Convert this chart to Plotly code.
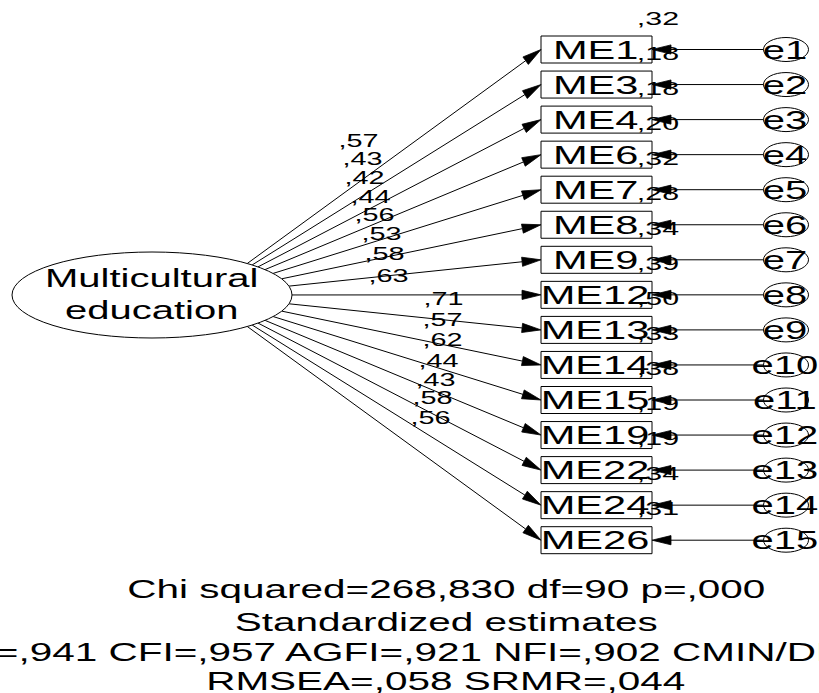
import math
import plotly.graph_objects as go

# ---- model content -------------------------------------------------------
latent_name = "Multicultural<br>education"
items = ["ME1", "ME3", "ME4", "ME6", "ME7", "ME8", "ME9", "ME12",
         "ME13", "ME14", "ME15", "ME19", "ME22", "ME24", "ME26"]
errors = ["e1", "e2", "e3", "e4", "e5", "e6", "e7", "e8",
          "e9", "e10", "e11", "e12", "e13", "e14", "e15"]
loadings = [0.57, 0.43, 0.42, 0.44, 0.56, 0.53, 0.58, 0.63,
            0.71, 0.57, 0.62, 0.44, 0.43, 0.58, 0.56]
r_squared = [0.32, 0.18, 0.18, 0.20, 0.32, 0.28, 0.34, 0.39,
             0.50, 0.33, 0.38, 0.19, 0.19, 0.34, 0.31]
fit_lines = [
    "Chi squared=268,830 df=90 p=,000",
    "Standardized estimates",
    "GFI=,941 CFI=,957 AGFI=,921 NFI=,902 CMIN/DF=2,987",
    "RMSEA=,058 SRMR=,044",
]

# ---- layout geometry (pixel units, y grows downward) ----------------------
W, H = 819, 693
ROW0, ROW_STEP = 49.5, 35.05
BOX_L, BOX_R, BOX_H = 541, 652, 27
BOX_CX = 596
ERR_CX, ERR_RX, ERR_RY = 786, 22.5, 12
LAT_CX, LAT_CY, LAT_RX, LAT_RY = 152, 295, 140, 43
FAN_X = 204          # paths fan out from this point on the latent's axis
R2_DX, R2_DY = 658, -29.5
loading_label_xy = [(358, 141), (362, 159), (364, 178), (370, 197), (374, 215),
                    (381, 234), (384, 254), (388, 276), (443, 299), (442, 320),
                    (442, 340), (438, 361), (435, 380), (432, 398), (430, 418)]
fit_line_y = [589, 622, 652, 681]
FIT_CX = 446
HEAD_LEN, HEAD_HALF = 19, 4.6
STRETCH = 1.6

FONT = "Liberation Sans, Arial, sans-serif"
rows = [ROW0 + ROW_STEP * i for i in range(len(items))]


def est(v):
    return "," + f"{v:.2f}".split(".")[1]


def edge_of_latent(tx, ty):
    """Point where the path from the fan point toward (tx, ty) leaves the ellipse."""
    dx, dy = tx - FAN_X, ty - LAT_CY
    ox = FAN_X - LAT_CX
    a = (dx / LAT_RX) ** 2 + (dy / LAT_RY) ** 2
    b = 2 * ox * dx / LAT_RX ** 2
    c = (ox / LAT_RX) ** 2 - 1
    t = (-b + math.sqrt(b * b - 4 * a * c)) / (2 * a)
    return FAN_X + t * dx, LAT_CY + t * dy


# collect every directed path as (start, end)
paths = []
for y in rows:
    paths.append((edge_of_latent(BOX_L, y), (BOX_L, y)))
for y in rows:
    paths.append(((ERR_CX - ERR_RX, y), (BOX_R, y)))

line_x, line_y, head_x, head_y = [], [], [], []
for (sx, sy), (ex, ey) in paths:
    length = math.hypot(ex - sx, ey - sy)
    ux, uy = (ex - sx) / length, (ey - sy) / length
    bx, by = ex - HEAD_LEN * ux, ey - HEAD_LEN * uy
    nx, ny = -uy, ux
    line_x += [sx, bx, None]
    line_y += [sy, by, None]
    head_x += [ex, bx + HEAD_HALF * nx, bx - HEAD_HALF * nx, ex, None]
    head_y += [ey, by + HEAD_HALF * ny, by - HEAD_HALF * ny, ey, None]

fig = go.Figure()
# squared multiple correlations sit at each box's upper-right corner,
# underneath the arrowheads
fig.add_trace(go.Scatter(x=[R2_DX] * len(rows), y=[y + R2_DY for y in rows],
                         mode="text", text=[est(v) for v in r_squared],
                         textposition="middle center",
                         textfont=dict(family=FONT, size=19, color="black"),
                         hoverinfo="skip"))
fig.add_trace(go.Scatter(x=line_x, y=line_y, mode="lines",
                         line=dict(color="black", width=1), hoverinfo="skip"))
fig.add_trace(go.Scatter(x=head_x, y=head_y, mode="lines", fill="toself",
                         fillcolor="black", line=dict(color="black", width=0.8),
                         hoverinfo="skip"))

shapes = [dict(type="circle", xref="x", yref="y",
               x0=LAT_CX - LAT_RX, x1=LAT_CX + LAT_RX,
               y0=LAT_CY - LAT_RY, y1=LAT_CY + LAT_RY,
               line=dict(color="black", width=1), fillcolor="white", layer="above")]
for y in rows:
    shapes.append(dict(type="rect", xref="x", yref="y",
                       x0=BOX_L, x1=BOX_R, y0=y - BOX_H / 2, y1=y + BOX_H / 2,
                       line=dict(color="black", width=1), layer="below"))
    shapes.append(dict(type="circle", xref="x", yref="y",
                       x0=ERR_CX - ERR_RX, x1=ERR_CX + ERR_RX,
                       y0=y - ERR_RY, y1=y + ERR_RY,
                       line=dict(color="black", width=1), layer="below"))

ann = []


def text(x, y, s, size):
    ann.append(dict(x=x, y=y, xref="x", yref="y", text=s, showarrow=False,
                    xanchor="center", yanchor="middle",
                    font=dict(family=FONT, size=size, color="black")))


text(LAT_CX - 1, LAT_CY - 1, latent_name, 25)
for y, name, err in zip(rows, items, errors):
    text(BOX_CX - 1, y, name, 26)
    text(ERR_CX - 1, y, err, 25)
for (lx, ly), v in zip(loading_label_xy, loadings):
    text(lx, ly, est(v), 18)
for y, s in zip(fit_line_y, fit_lines):
    text(FIT_CX, y, s, 25.3)

fig.update_layout(
    width=W, height=H, margin=dict(l=0, r=0, t=0, b=0),
    paper_bgcolor="white", plot_bgcolor="white", showlegend=False,
    xaxis=dict(range=[0, W], visible=False, fixedrange=True),
    yaxis=dict(range=[H, 0], visible=False, fixedrange=True),
    shapes=shapes, annotations=ann,
)

# all labels use horizontally widened glyphs
widen = (
    "var st=document.createElement('style');"
    "st.textContent='.annotation-text,.textpoint text{transform-box:fill-box;"
    "transform-origin:center;transform:scaleX(" + str(STRETCH) + ");}';"
    "document.head.appendChild(st);"
)
fig.write_html("out.html", post_script=widen)
